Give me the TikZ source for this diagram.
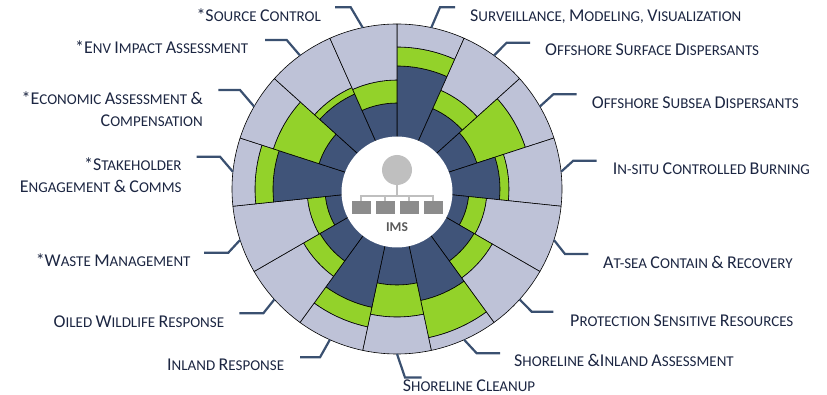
\documentclass[tikz,border=0pt]{standalone}
\usepackage{fontspec}
\setmainfont{Carlito}
\definecolor{navy}{RGB}{64,84,121}
\definecolor{leaf}{RGB}{147,210,42}
\definecolor{mist}{RGB}{190,194,215}
\definecolor{wire}{RGB}{58,80,112}
\definecolor{ink}{RGB}{28,38,66}
\definecolor{iconlight}{RGB}{191,191,191}
\definecolor{icondark}{RGB}{140,140,140}
\definecolor{imsgray}{RGB}{89,89,89}
\newcommand\C[1]{{\fontsize{18}{22}\selectfont #1}}

\begin{document}
\begin{tikzpicture}
  [x=1pt,y=1pt,
   wedge/.style={draw=black,line width=0.6pt,line join=round},
   leader/.style={draw=wire,line width=2.2pt},
   lbl/.style={inner sep=0pt,text=ink,font=\fontsize{15}{22}\selectfont},
   lblR/.style={lbl,anchor=base west},
   lblL/.style={lbl,anchor=base east},
   lblLL/.style={lbl,anchor=south east,align=right}]
  \useasboundingbox (0,0) rectangle (827,-395);

  \begin{scope}[shift={(397,-189)}]
    \foreach \k/\ra/\rb in {1/123/142, 2/88/108, 3/84/135, 4/103/112, 5/72/90,
                            6/89/110, 7/114/152, 8/96/128, 9/121/141, 10/89/108,
                            11/72/90, 12/124/142, 13/82/130, 14/104/111, 15/86/109}{
      \pgfmathsetmacro\a{90-24*(\k-1)}
      \pgfmathsetmacro\b{\a-24}
      \filldraw[wedge,fill=navy] (0,0) -- (\a:\ra)
        arc[start angle=\a,end angle=\b,radius=\ra] -- cycle;
      \filldraw[wedge,fill=leaf] (\a:\ra)
        arc[start angle=\a,end angle=\b,radius=\ra] -- (\b:\rb)
        arc[start angle=\b,end angle=\a,radius=\rb] -- cycle;
      \filldraw[wedge,fill=mist] (\a:\rb)
        arc[start angle=\a,end angle=\b,radius=\rb] -- (\b:165)
        arc[start angle=\b,end angle=\a,radius=165] -- cycle;
    }
  \end{scope}

  \node (rim) at (397,-189) [circle,minimum size=330pt,inner sep=0pt,outer sep=0pt] {};
  \node (hub) at (397,-192) [circle,fill=white,minimum size=111pt,inner sep=0pt] {};

  \begin{scope}[shift={(hub.center)}]
    \fill[iconlight] (0,22) circle (15);
    \draw[iconlight,line width=1.2pt] (0,7) -- (0,-4);
    \draw[iconlight,line width=1.2pt] (-36,-9) |- (36,-4) -- (36,-9);
    \draw[iconlight,line width=1.2pt] (-12,-4) -- (-12,-9) (12,-4) -- (12,-9);
    \foreach \x in {-36,-12,12,36}
      \fill[icondark] (\x-9.5,-9) rectangle (\x+9.5,-22);
    \node (ims) at (0,-35) [text=imsgray,font=\fontsize{13.5}{15}\selectfont\bfseries] {IMS};
  \end{scope}

  % labels on the right
  \node (l1) at (470,-21.7) [lblR] {\C{S}URVEILLANCE, \C{M}ODELING, \C{V}ISUALIZATION};
  \node (l2) at (545,-56) [lblR] {\C{O}FFSHORE \C{S}URFACE \C{D}ISPERSANTS};
  \node (l3) at (591.7,-109) [lblR] {\C{O}FFSHORE \C{S}UBSEA \C{D}ISPERSANTS};
  \node (l4) at (612.7,-175) [lblR] {\C{I}N-SITU \C{C}ONTROLLED \C{B}URNING};
  \node (l5) at (603,-269) [lblR] {\C{A}T-SEA \C{C}ONTAIN \C{\&} \C{R}ECOVERY};
  \node (l6) at (570,-326.7) [lblR] {\C{P}ROTECTION \C{S}ENSITIVE \C{R}ESOURCES};
  \node (l7) at (514,-366.7) [lblR] {\C{S}HORELINE \C{\&I}NLAND \C{A}SSESSMENT};
  \node (l8) at (402.7,-391.5) [lblR] {\C{S}HORELINE \C{C}LEANUP};

  % labels on the left
  \node (l9) at (284.3,-370.7) [lblL] {\C{I}NLAND \C{R}ESPONSE};
  \node (l10) at (224.3,-327.3) [lblL] {\C{O}ILED \C{W}ILDLIFE \C{R}ESPONSE};
  \node (l11) at (190.7,-266.7) [lblL] {\C{*W}ASTE \C{M}ANAGEMENT};
  \node (l12) at (181.7,-193.3) [lblLL] {\C{*S}TAKEHOLDER\\\C{E}NGAGEMENT \C{\&} \C{C}OMMS};
  \node (l13) at (203,-127.3) [lblLL] {\C{*E}CONOMIC \C{A}SSESSMENT \C{\&}\\\C{C}OMPENSATION};
  \node (l14) at (248.3,-53.3) [lblL] {\C{*E}NV \C{I}MPACT \C{A}SSESSMENT};
  \node (l15) at (321,-21.7) [lblL] {\C{*S}OURCE \C{C}ONTROL};

  \coordinate (e1) at (455,-7.3);
  \coordinate (e2) at (530,-42.7);
  \coordinate (e3) at (576.7,-94.3);
  \coordinate (e4) at (596.7,-160.7);
  \coordinate (e5) at (588.3,-254);
  \coordinate (e6) at (553.3,-311.7);
  \coordinate (e7) at (500,-353.3);
  \coordinate (e8) at (421.7,-377.5);
  \coordinate (e9) at (300,-357.3);
  \coordinate (e10) at (239.3,-313.3);
  \coordinate (e11) at (204,-252.7);
  \coordinate (e12) at (196.7,-156.7);
  \coordinate (e13) at (218.3,-90);
  \coordinate (e14) at (265,-40);
  \coordinate (e15) at (335,-7.3);

  \draw[leader] (rim.78) -- ([xshift=-15pt]e1) -- (e1);
  \draw[leader] (rim.54) -- ([xshift=-23.3pt]e2) -- (e2);
  \draw[leader] (rim.30) -- ([xshift=-23.4pt]e3) -- (e3);
  \draw[leader] (rim.6) -- ([xshift=-23.4pt]e4) -- (e4);
  \draw[leader] (rim.-18) -- ([xshift=-23.3pt]e5) -- (e5);
  \draw[leader] (rim.-42) -- ([xshift=-21.6pt]e6) -- (e6);
  \draw[leader] (rim.-66) -- ([xshift=-23.3pt]e7) -- (e7);
  \draw[leader] (rim.-90) -- ([xshift=-16.7pt]e8) -- (e8);
  \draw[leader] (rim.-114) -- ([xshift=20pt]e9) -- (e9);
  \draw[leader] (rim.-138) -- ([xshift=24pt]e10) -- (e10);
  \draw[leader] (rim.-162) -- ([xshift=24.3pt]e11) -- (e11);
  \draw[leader] (rim.174) -- ([xshift=23.3pt]e12) -- (e12);
  \draw[leader] (rim.150) -- ([xshift=21.7pt]e13) -- (e13);
  \draw[leader] (rim.126) -- ([xshift=21.7pt]e14) -- (e14);
  \draw[leader] (rim.102) -- ([xshift=15.7pt]e15) -- (e15);
\end{tikzpicture}
\end{document}
